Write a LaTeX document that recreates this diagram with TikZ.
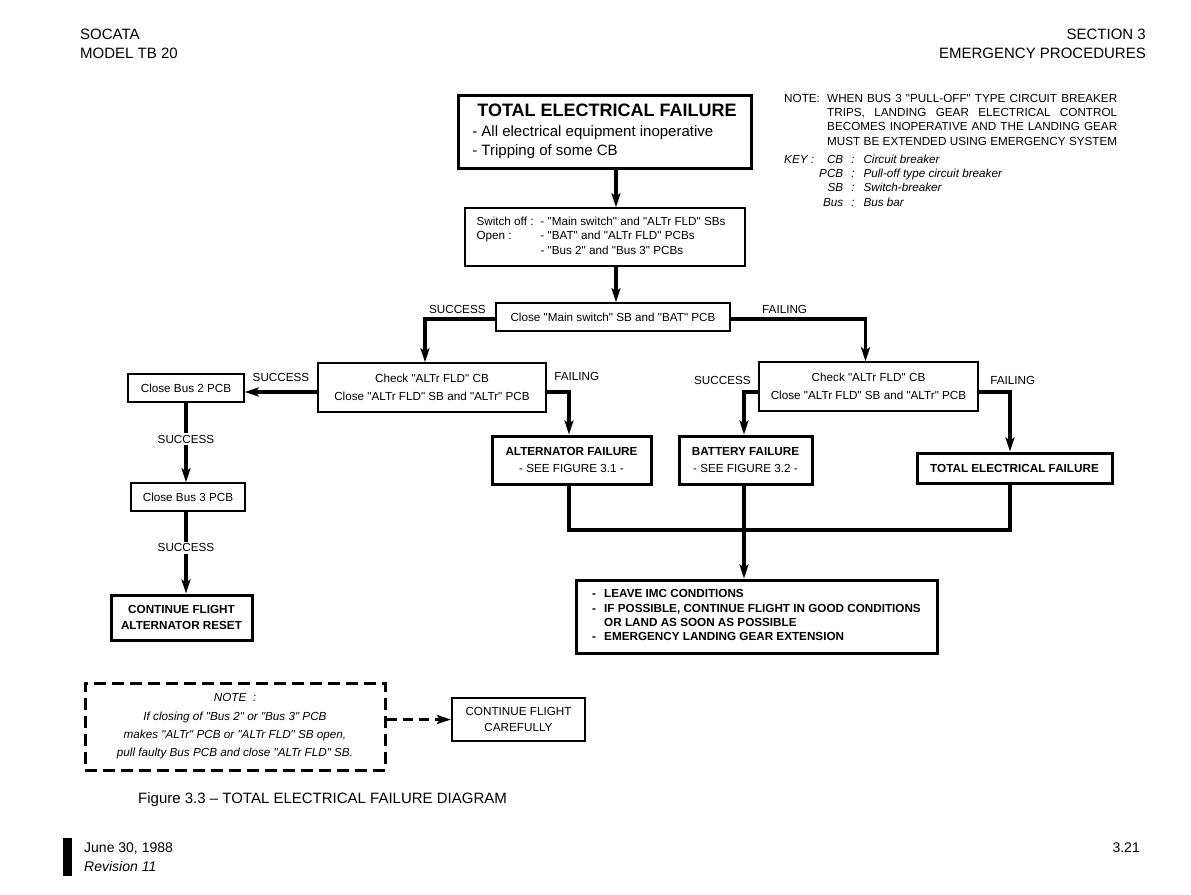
\documentclass[tikz,border=0pt]{standalone}
\usepackage{fontspec}
\setmainfont{Liberation Sans}[Ligatures=TeXOff]
\usetikzlibrary{arrows.meta,calc,positioning}
\newcommand\bxfont{\fontsize{11.7}{14.3}\selectfont}
\newcommand\hdfont{\fontsize{15}{19}\selectfont}
\tikzset{
  flow/.style={-{Stealth[length=14pt,width=9pt,inset=3pt]}, line width=3.2pt},
  link/.style={line width=3.2pt},
  thinbox/.style={draw, line width=1.4pt, rectangle, align=center, inner sep=0pt, font=\bxfont},
  thickbox/.style={thinbox, line width=3pt},
  dashbox/.style={thickbox, dash pattern=on 12pt off 6pt},
  lbl/.style={font=\bxfont, inner sep=0pt},
  hd/.style={font=\hdfont, inner sep=0pt}
}

\begin{document}
\begin{tikzpicture}[x=1pt,y=-1pt]
  \useasboundingbox (0,0) rectangle (1191,894);

  % page header
  \node[hd, anchor=base west] (soc) at (80,39) {SOCATA};
  \node[hd, anchor=base west] (mdl) at (80,58) {MODEL TB 20};
  \node[hd, anchor=base east] (sec) at (1146,39) {SECTION 3};
  \node[hd, anchor=base east] (emp) at (1146,58) {EMERGENCY PROCEDURES};

  % note and key
  \node[lbl, anchor=north west] (nte) at (784,92) {%
    \begin{tabular}{@{}p{43pt}@{}l@{}}
      NOTE: & \makebox[290pt][s]{WHEN BUS 3 "PULL-OFF" TYPE CIRCUIT BREAKER}\\
            & \makebox[290pt][s]{TRIPS, LANDING GEAR ELECTRICAL CONTROL}\\
            & \makebox[290pt][s]{BECOMES INOPERATIVE AND THE LANDING GEAR}\\
            & \makebox[290pt][s]{MUST BE EXTENDED USING EMERGENCY SYSTEM}
    \end{tabular}};
  \node[lbl, font=\bxfont\itshape, anchor=north west] (key) at (784,153) {%
    \begin{tabular}{@{}p{35pt}@{}r@{\hspace{8pt}:\hspace{9pt}}l@{}}
      KEY : & CB & Circuit breaker\\
            & PCB & Pull-off type circuit breaker\\
            & SB & Switch-breaker\\
            & Bus & Bus bar
    \end{tabular}};

  % boxes
  \node[thickbox, minimum width=293pt, minimum height=73pt, align=left, font=\fontsize{15}{19.5}\selectfont] (top) at (604.5,131.5)
    {{\fontsize{18}{19.5}\selectfont\bfseries\ TOTAL ELECTRICAL FAILURE}\\- All electrical equipment inoperative\\- Tripping of some CB};
  \node[thinbox, minimum width=280pt, minimum height=58pt] (box2) at (605,237) {%
    \begin{tabular}{@{}p{64pt}@{}l@{}}
      Switch off : & - "Main switch" and "ALTr FLD" SBs\\
      Open : & - "BAT" and "ALTr FLD" PCBs\\
             & - "Bus 2" and "Bus 3" PCBs
    \end{tabular}\hspace*{8pt}};
  \node[thinbox, minimum width=234pt, minimum height=28pt] (box3) at (613,317) {Close "Main switch" SB and "BAT" PCB};
  \node[thinbox, minimum width=228pt, minimum height=49pt] (chkL) at (432,387.5) {Check "ALTr FLD" CB\\[4pt]Close "ALTr FLD" SB and "ALTr" PCB};
  \node[thinbox, minimum width=219pt, minimum height=49pt] (chkR) at (868.5,386.5) {Check "ALTr FLD" CB\\[4pt]Close "ALTr FLD" SB and "ALTr" PCB};
  \node[thinbox, minimum width=116pt, minimum height=28pt] (bus2) at (186,388) {Close Bus 2 PCB};
  \node[thinbox, minimum width=114pt, minimum height=28pt] (bus3) at (188,497) {Close Bus 3 PCB};
  \node[thickbox, minimum width=141pt, minimum height=45pt, font=\bxfont\bfseries] (cont) at (181.5,617.5) {CONTINUE FLIGHT\\[1pt]ALTERNATOR RESET};
  \node[thickbox, minimum width=159pt, minimum height=48pt] (altf) at (571.5,460) {\textbf{ALTERNATOR FAILURE}\\[2pt]- SEE FIGURE 3.1 -};
  \node[thickbox, minimum width=133pt, minimum height=48pt] (batf) at (745.5,460) {\textbf{BATTERY FAILURE}\\[2pt]- SEE FIGURE 3.2 -};
  \node[thickbox, minimum width=195pt, minimum height=30pt, font=\bxfont\bfseries] (tef) at (1014.5,468) {TOTAL ELECTRICAL FAILURE};
  \node[thickbox, minimum width=361pt, minimum height=73pt, font=\bxfont\bfseries] (fin) at (756.5,616.5) {%
    \begin{tabular}{@{}p{12pt}@{}l@{}}
      - & LEAVE IMC CONDITIONS\\
      - & IF POSSIBLE, CONTINUE FLIGHT IN GOOD CONDITIONS\\
        & OR LAND AS SOON AS POSSIBLE\\
      - & EMERGENCY LANDING GEAR EXTENSION
    \end{tabular}};
  \node[dashbox, minimum width=300pt, minimum height=87pt, font=\bxfont\itshape] (note) at (235,726.5)
    {NOTE\ \ :\\[4pt]If closing of "Bus 2" or "Bus 3" PCB\\[4pt]makes "ALTr" PCB or "ALTr FLD" SB open,\\[4pt]pull faulty Bus PCB and close "ALTr FLD" SB.};
  \node[thickbox, line width=2.2pt, minimum width=133pt, minimum height=43pt] (care) at (518.5,719.5) {CONTINUE FLIGHT\\[1pt]CAREFULLY};

  % caption and footer
  \node[hd, anchor=base west] (cap) at (138,803.5) {Figure 3.3 – TOTAL ELECTRICAL FAILURE DIAGRAM};
  \fill (63,838) rectangle (72,876);
  \node[hd, font=\fontsize{14}{18}\selectfont, anchor=base west] (date) at (84,852) {June 30, 1988};
  \node[hd, font=\fontsize{14}{18}\selectfont\itshape, anchor=base west] (rev) at (84,871) {Revision 11};
  \node[hd, font=\fontsize{14}{18}\selectfont, anchor=base east] (pg) at (1140,852) {3.21};

  % connectors
  \coordinate (spine) at (616,0);
  \coordinate (row) at (0,392);
  \coordinate (ma) at (569,530);
  \coordinate (mb) at (744,530);
  \coordinate (mt) at (1010,530);

  \draw[flow] (top.south -| spine) -- (box2.north -| spine);
  \draw[flow] (box2.south -| spine) -- (box3.north -| spine);
  \draw[flow] ($(box3.west)+(0,2)$) -| node[lbl, above=4pt, pos=0.27] {SUCCESS} ($(chkL.north)+(-7,0)$);
  \draw[flow] ($(box3.east)+(0,2)$) -| node[lbl, above=4pt, pos=0.2] {FAILING} ($(chkR.north)+(-3,0)$);
  \draw[flow] (chkL.west |- row) -- node[lbl, above=9pt] {SUCCESS} (bus2.east |- row);
  \draw[flow] (chkL.east |- row) -| node[lbl, above right=10pt and 6pt, pos=0] {FAILING} (altf.north -| ma);
  \draw[flow] (chkR.west |- row) -| node[lbl, above left=6pt and 6pt, pos=0] {SUCCESS} (batf.north -| mb);
  \draw[flow] (chkR.east |- row) -| node[lbl, above right=6pt and 10pt, pos=0] {FAILING} (tef.north -| mt);
  \draw[flow] (bus2.south) -- node[lbl, fill=white, inner sep=2pt, pos=0.46] {SUCCESS} (bus2.south |- bus3.north);
  \draw[flow] (bus3.south -| bus2) -- node[lbl, fill=white, inner sep=2pt, pos=0.44] {SUCCESS} (cont.north -| bus2);
  \draw[link] (altf.south -| ma) -- (ma) -- (mt) -- (tef.south -| mt);
  \draw[flow] (batf.south -| mb) -- (fin.north -| mb);
  \draw[flow, dash pattern=on 10pt off 6pt] (note.east |- care) -- (care.west);
\end{tikzpicture}
\end{document}
